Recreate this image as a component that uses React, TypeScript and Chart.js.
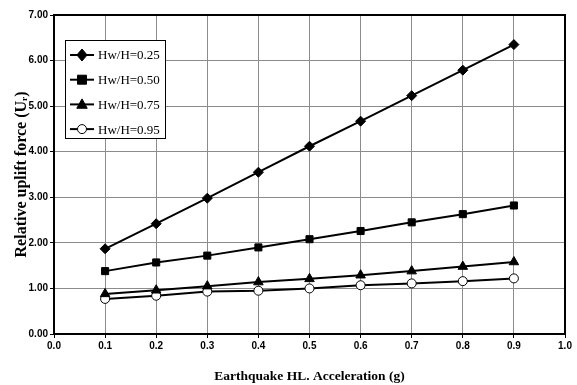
import React, { useEffect, useRef } from "react";
import { Chart, registerables } from "chart.js";

Chart.register(...registerables);

const xValues = [0.1, 0.2, 0.3, 0.4, 0.5, 0.6, 0.7, 0.8, 0.9];
const seriesLabels = ["Hw/H=0.25", "Hw/H=0.50", "Hw/H=0.75", "Hw/H=0.95"];
const s025 = [1.87, 2.42, 2.98, 3.55, 4.12, 4.67, 5.23, 5.79, 6.35];
const s050 = [1.38, 1.57, 1.72, 1.90, 2.08, 2.26, 2.45, 2.63, 2.82];
const s075 = [0.88, 0.96, 1.05, 1.14, 1.21, 1.29, 1.38, 1.48, 1.58];
const s095 = [0.77, 0.84, 0.93, 0.95, 1.00, 1.07, 1.11, 1.16, 1.22];
const xTitle = "Earthquake HL. Acceleration (g)";
const yTitle = "Relative uplift force (Uᵣ)";

const styles = [
  { pointStyle: "rectRot", fill: "#000", radius: 5 },
  { pointStyle: "rect", fill: "#000", radius: 5 },
  { pointStyle: "triangle", fill: "#000", radius: 5.5 },
  { pointStyle: "circle", fill: "#fff", radius: 4.5 },
];

function drawPoint(ctx: CanvasRenderingContext2D, style: string, r: number, x: number, y: number, fill: string) {
  ctx.save();
  ctx.fillStyle = fill;
  ctx.strokeStyle = "#000";
  ctx.lineWidth = 1;
  ctx.beginPath();
  if (style === "rectRot") {
    const d = r * 1.2;
    ctx.moveTo(x, y - d);
    ctx.lineTo(x + d * 0.85, y);
    ctx.lineTo(x, y + d);
    ctx.lineTo(x - d * 0.85, y);
    ctx.closePath();
  } else if (style === "rect") {
    const s = r * 0.9;
    ctx.rect(x - s, y - s, 2 * s, 2 * s);
  } else if (style === "triangle") {
    ctx.moveTo(x, y - r);
    ctx.lineTo(x + r * 0.95, y + r * 0.7);
    ctx.lineTo(x - r * 0.95, y + r * 0.7);
    ctx.closePath();
  } else {
    ctx.arc(x, y, r, 0, Math.PI * 2);
  }
  ctx.fill();
  ctx.stroke();
  ctx.restore();
}

const frameAndLegend = {
  id: "frameAndLegend",
  afterDraw(chart: any) {
    const { ctx, chartArea } = chart;
    ctx.save();
    ctx.strokeStyle = "#000";
    ctx.lineWidth = 2;
    ctx.strokeRect(chartArea.left, chartArea.top, chartArea.right - chartArea.left, chartArea.bottom - chartArea.top);
    const bx = chartArea.left + 11;
    const by = chartArea.top + 25;
    const bw = 100;
    const bh = 98;
    ctx.fillStyle = "#fff";
    ctx.fillRect(bx, by, bw, bh);
    ctx.lineWidth = 1;
    ctx.strokeRect(bx + 0.5, by + 0.5, bw, bh);
    ctx.font = "13px 'Liberation Serif'";
    ctx.textBaseline = "middle";
    chart.data.datasets.forEach((ds: any, i: number) => {
      const y = by + 15 + i * 24.7;
      ctx.strokeStyle = "#000";
      ctx.lineWidth = 2;
      ctx.beginPath();
      ctx.moveTo(bx + 5, y);
      ctx.lineTo(bx + 29, y);
      ctx.stroke();
      drawPoint(ctx, ds.pointStyle, ds.pointRadius, bx + 17, y, ds.pointBackgroundColor);
      ctx.fillStyle = "#000";
      ctx.fillText(ds.label, bx + 33, y + 1);
    });
    ctx.restore();
  },
};

export default function App() {
  const ref = useRef<HTMLCanvasElement>(null);
  useEffect(() => {
    document.body.style.margin = "0";
    const all = [s025, s050, s075, s095];
    const chart = new Chart(ref.current!, {
      type: "line",
      data: {
        datasets: all.map((vals, i) => ({
          label: seriesLabels[i],
          data: xValues.map((x, j) => ({ x, y: vals[j] })),
          borderColor: "#000",
          borderWidth: 2,
          pointStyle: styles[i].pointStyle as any,
          pointRadius: styles[i].radius,
          pointBackgroundColor: styles[i].fill,
          pointBorderColor: "#000",
          pointBorderWidth: 1,
          tension: 0,
        })),
      },
      options: {
        animation: false,
        responsive: false,
        devicePixelRatio: 1,
        layout: { padding: { top: 15, right: 12, left: 0, bottom: 0 } },
        plugins: { legend: { display: false }, tooltip: { enabled: false } },
        scales: {
          x: {
            type: "linear",
            min: 0,
            max: 1,
            afterFit: (s: any) => { s.height = 51; },
            ticks: {
              stepSize: 0.1,
              color: "#000",
              font: { family: "'Liberation Sans'", size: 10, weight: "bold" },
              callback: (v: any) => Number(v).toFixed(1),
              padding: 2,
            },
            grid: { color: "#8c8c8c", lineWidth: 1, tickLength: 4, tickColor: "#000" },
            border: { color: "#000", width: 2 },
            title: {
              display: true,
              text: xTitle,
              color: "#000",
              font: { family: "'Liberation Serif'", size: 13.5, weight: "bold" },
              padding: { top: 0, bottom: 0 },
            },
          },
          y: {
            type: "linear",
            min: 0,
            max: 7,
            afterFit: (s: any) => { s.width = 54; },
            ticks: {
              stepSize: 1,
              color: "#000",
              font: { family: "'Liberation Sans'", size: 10, weight: "bold" },
              callback: (v: any) => Number(v).toFixed(2),
              padding: 2,
            },
            grid: { color: "#8c8c8c", lineWidth: 1, tickLength: 4, tickColor: "#000" },
            border: { color: "#000", width: 2 },
            title: {
              display: true,
              text: yTitle,
              color: "#000",
              font: { family: "'Liberation Serif'", size: 16, weight: "bold" },
              padding: { top: 12, bottom: 0 },
            },
          },
        },
      },
      plugins: [frameAndLegend],
    });
    return () => chart.destroy();
  }, []);
  return (
    <div style={{ width: 577, height: 385, background: "#fff" }}>
      <canvas ref={ref} width={577} height={385} />
    </div>
  );
}
